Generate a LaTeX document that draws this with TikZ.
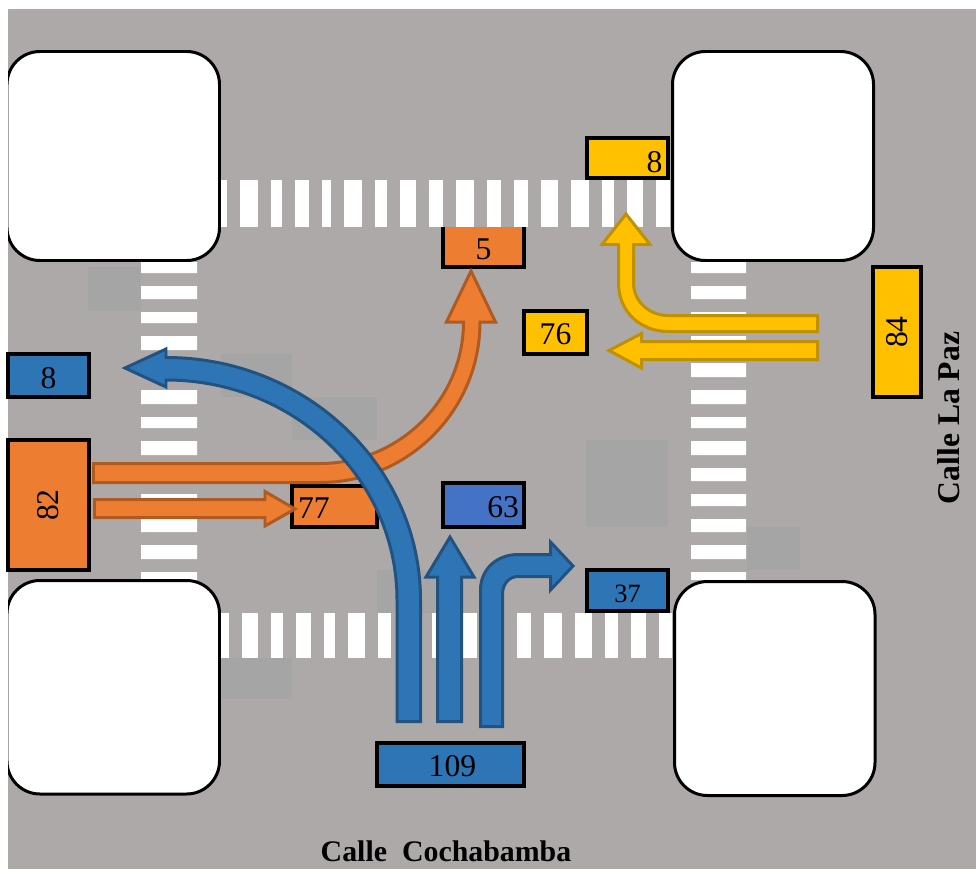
\documentclass[tikz,border=0pt]{standalone}
\usepackage{fontspec}
\setmainfont{Liberation Serif}
\definecolor{road}{HTML}{ADA9A8}
\definecolor{patch}{HTML}{A5A5A5}
\definecolor{cblue}{HTML}{2E75B6}
\definecolor{cindigo}{HTML}{4472C4}
\definecolor{corange}{HTML}{ED7D31}
\definecolor{cyellow}{HTML}{FFC000}
\definecolor{dblue}{HTML}{225380}
\definecolor{dorange}{HTML}{AE5A21}
\definecolor{dyellow}{HTML}{BF9000}
\begin{document}
\begin{tikzpicture}[x=0.02cm,y=-0.02cm]
        \tikzstyle{count}=[draw=black,line width=2.2pt,inner sep=0pt,font=\fontsize{18}{18}\selectfont]
        \tikzstyle{block}=[draw=black,line width=1.7pt,fill=white,rounded corners=0.66cm]
        \tikzstyle{flow}=[line width=1.7pt,line join=miter]
        \tikzstyle{street}=[inner sep=0pt,font=\bfseries\fontsize{18}{18}\selectfont]
        \useasboundingbox (0,0) rectangle (976,869);
        \fill[road] (8,9) rectangle (976,869);
        \foreach \xa/\ya/\xb/\yb in {88/267/141/311,221/354/292/397,292/397/377/440,377/570/435/613,586/440/668/527,747/527/800/570,221/658/292/699}
            \fill[patch] (\xa,\ya) rectangle (\xb,\yb);
        \foreach \xa/\xb in {220/227,240/258,271/282,295/309,322/331,344/362,375/387,400/416,429/443,456/474,487/501,514/528,541/558,571/589,602/614,627/643,656/670}
            \fill[white] (\xa,180) rectangle (\xb,227);
        \foreach \xa/\xb in {220/229,242/258,271/283,296/311,324/335,348/365,378/391,405/420,432/450,463/477,490/504,517/531,544/562,575/592,605/618,631/646,659/672}
            \fill[white] (\xa,613) rectangle (\xb,658);
        \foreach \ya/\yb in {262/273,286/299,312/323,336/350,363/377,390/404,417/428,441/455,468/481,494/506,519/532,545/559,572/580}
            \fill[white] (141,\ya) rectangle (197,\yb) (691,\ya) rectangle (746,\yb);
        \begin{scope}
            \clip (8,9) rectangle (976,869);
            \draw[block] (7,51.5) rectangle (219.5,260.5);
            \draw[block] (672.5,51.5) rectangle (873.5,260.5);
            \draw[block] (7,580.5) rectangle (219.5,794);
            \draw[block] (674.5,581.5) rectangle (875,795.5);
        \end{scope}
        \node[count,fill=cyellow,minimum width=1.62cm,minimum height=.8cm,text width=1.4cm,align=right,text height=16.7pt] (exitnorth) at (627.5,158) {8};
        \node[fill=corange,inner sep=0pt,font=\fontsize{18}{18}\selectfont,minimum width=1.62cm,minimum height=.8cm,text height=13.9pt] (exitwest) at (483.5,247) {5};
        \draw[line width=2.2pt] (exitwest.north west) -- (exitwest.south west) -- (exitwest.south east) -- (exitwest.north east);
        \node[count,fill=cyellow,minimum width=1.26cm,minimum height=.86cm,text height=13.3pt] (straighteast) at (555.5,332.5) {76};
        \node[count,fill=cyellow,rotate=90,minimum width=2.6cm,minimum height=.96cm] (fromeast) at (897,332) {84};
        \node[count,fill=cblue,minimum width=1.62cm,minimum height=.86cm,text height=15pt] (exitblue) at (48.5,375.5) {8};
        \node[count,fill=corange,rotate=90,minimum width=2.6cm,minimum height=1.62cm] (fromwest) at (48.5,505) {82};
        \node[count,fill=corange,minimum width=1.7cm,minimum height=.82cm,text width=1.46cm,align=left,text height=13.3pt] (straightwest) at (334.5,506.5) {77};
        \node[count,fill=cindigo,minimum width=1.62cm,minimum height=.88cm,text width=1.42cm,align=right,text height=14.5pt] (straightsouth) at (483.5,505) {63};
        \node[count,fill=cblue,minimum width=1.62cm,minimum height=.82cm,font=\fontsize{15}{15}\selectfont,text height=13.5pt] (exitsouth) at (627.5,590.5) {37};
        \node[count,fill=cblue,minimum width=2.94cm,minimum height=.86cm,text height=13.3pt] (fromsouth) at (450.5,764.5) {\hspace*{2.2pt}109};
        \draw[flow,fill=corange,draw=dorange] (93.5,463.5) -- (320,463.5) .. controls (399,463.5) and (463.5,400) .. (463.5,322) -- (446.5,322) -- (471,271) -- (495.5,322) -- (480,322) .. controls (480,410.6) and (408,482.5) .. (320,482.5) -- (93.5,482.5) -- cycle;
        \draw[flow,fill=corange,draw=dorange] (94.5,499.5) -- (265,499.5) -- (265,491.5) -- (295,509) -- (265,526) -- (265,517.5) -- (94.5,517.5) -- cycle;
        \draw[flow,fill=cyellow,draw=dyellow] (817.5,341.5) -- (641.5,341.5) -- (641.5,333.5) -- (609,350.5) -- (641.5,368) -- (641.5,359.5) -- (817.5,359.5) -- cycle;
        \draw[flow,fill=cyellow,draw=dyellow] (817.5,315.5) -- (668,315.5) .. controls (650,315.5) and (633.5,302) .. (633.5,283) -- (633.5,244.5) -- (650,244.5) -- (626,214) -- (602,244.5) -- (618.5,244.5) -- (618.5,283) .. controls (618.5,313) and (642,331.5) .. (668,331.5) -- (817.5,331.5) -- cycle;
        \draw[flow,fill=cblue,draw=dblue] (420.5,721.5) -- (420.5,600) .. controls (420.5,466) and (306,357.5) .. (166,357.5) -- (166,349) -- (125,368) -- (166,387) -- (166,380) .. controls (294,380) and (397,478.5) .. (397,600) -- (397,721.5) -- cycle;
        \draw[flow,fill=cblue,draw=dblue] (437.5,721.5) -- (461.5,721.5) -- (461.5,577) -- (474,577) -- (450,537) -- (426,577) -- (437.5,577) -- cycle;
        \draw[flow,fill=cblue,draw=dblue] (480.5,726.5) -- (480.5,590) .. controls (480.5,569) and (497,554.5) .. (518,554.5) -- (550.5,554.5) -- (550.5,542) -- (573,566) -- (550.5,590) -- (550.5,576.5) -- (518,576.5) .. controls (509,576.5) and (502.5,584) .. (502.5,594) -- (502.5,726.5) -- cycle;
        \node[street,font=\bfseries\fontsize{17}{17}\selectfont] (cochabamba) at (446,851) {Calle\ \ Cochabamba};
        \node[street,rotate=90] (lapaz) at (949,418) {Calle La Paz};
\end{tikzpicture}
\end{document}
